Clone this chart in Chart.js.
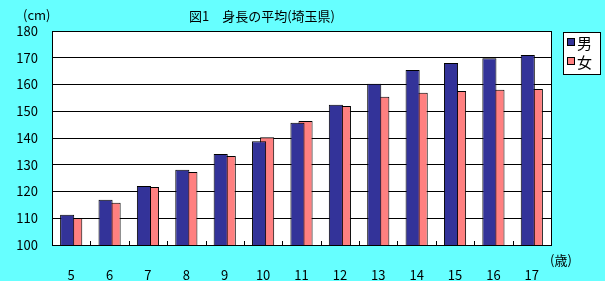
<!DOCTYPE html>
<html>
<head>
<meta charset="utf-8">
<script src="https://cdn.jsdelivr.net/npm/chart.js@4.4.0/dist/chart.umd.min.js"></script>
<style>
  html, body { margin: 0; padding: 0; background: #66ffff; }
  #wrap { width: 605px; height: 281px; position: relative; }
</style>
</head>
<body>
<div id="wrap"><canvas id="heightChart" width="605" height="281"></canvas></div>
<script>
const ages = ["5", "6", "7", "8", "9", "10", "11", "12", "13", "14", "15", "16", "17"];
const boys = [111.3, 116.9, 122.1, 128.1, 134.0, 138.8, 145.7, 152.4, 160.3, 165.4, 168.0, 169.8, 171.0];
const girls = [110.1, 115.8, 121.7, 127.3, 133.3, 140.3, 146.4, 152.0, 155.4, 156.9, 157.6, 158.0, 158.3];
const yMin = 100;
const yMax = 180;
const yStep = 10;

const FONT = "'Noto Sans CJK JP', 'Noto Sans', sans-serif";
const BOY_COLOR = "#333399";
const GIRL_COLOR = "#ff8080";

const decorations = {
  id: "decorations",
  beforeDraw(chart) {
    const ctx = chart.ctx;
    const a = chart.chartArea;
    ctx.save();
    ctx.fillStyle = "#66ffff";
    ctx.fillRect(0, 0, chart.width, chart.height);
    ctx.fillStyle = "#ffffff";
    ctx.fillRect(a.left, a.top, a.right - a.left, a.bottom - a.top);
    ctx.restore();
  },
  afterDraw(chart) {
    const ctx = chart.ctx;
    const a = chart.chartArea;
    const xs = chart.scales.x;
    ctx.save();
    // small inner tick marks at category boundaries
    ctx.strokeStyle = "#000";
    ctx.lineWidth = 1;
    for (let i = 1; i < ages.length; i++) {
      const px = Math.round((xs.getPixelForValue(i - 1) + xs.getPixelForValue(i)) / 2) + 0.5;
      ctx.beginPath();
      ctx.moveTo(px, a.bottom);
      ctx.lineTo(px, a.bottom - 4);
      ctx.stroke();
    }
    // frame
    ctx.strokeRect(Math.round(a.left) + 0.5, Math.round(a.top) + 0.5, Math.round(a.right - a.left), Math.round(a.bottom - a.top));

    // title and units
    ctx.fillStyle = "#000";
    ctx.textBaseline = "middle";
    ctx.font = "13px " + FONT;
    ctx.textAlign = "center";
    ctx.fillText("図1　身長の平均(埼玉県)", 262, 16);
    ctx.textAlign = "left";
    ctx.fillText("(cm)", 23, 15);
    ctx.fillText("(歳)", 550, 260);

    // legend
    ctx.fillStyle = "#fff";
    ctx.fillRect(563, 32, 37, 42);
    ctx.strokeRect(563.5, 32.5, 37, 42);
    const items = chart.data.datasets;
    items.forEach((ds, i) => {
      const cy = 42 + i * 19;
      ctx.fillStyle = ds.backgroundColor;
      ctx.fillRect(567, cy - 3, 7, 7);
      ctx.strokeRect(567.5, cy - 3.5, 7, 7);
      ctx.fillStyle = "#000";
      ctx.font = "15px " + FONT;
      ctx.textAlign = "left";
      ctx.fillText(ds.label, 577, cy + 1);
    });
    ctx.restore();
  },
};

new Chart(document.getElementById("heightChart").getContext("2d"), {
  type: "bar",
  data: {
    labels: ages,
    datasets: [
      {
        label: "男",
        data: boys,
        backgroundColor: BOY_COLOR,
        borderColor: "#000",
        borderWidth: 1,
        categoryPercentage: 0.42,
        barPercentage: 1.75,
      },
      {
        label: "女",
        data: girls,
        backgroundColor: GIRL_COLOR,
        borderColor: "#000",
        borderWidth: 1,
        categoryPercentage: 0.42,
        barPercentage: 1.75,
      },
    ],
  },
  options: {
    responsive: false,
    animation: false,
    devicePixelRatio: 1,
    layout: { padding: { top: 31, right: 54, bottom: 0, left: 0 } },
    plugins: {
      legend: { display: false },
      title: { display: false },
      tooltip: { enabled: false },
    },
    scales: {
      x: {
        grid: { display: false },
        border: { display: false },
        ticks: {
          color: "#000",
          font: { family: FONT, size: 13 },
          padding: 14,
          maxRotation: 0,
        },
        afterFit(scale) {
          scale.height = 36;
        },
      },
      y: {
        min: yMin,
        max: yMax,
        grid: { color: "#000", lineWidth: 1, drawTicks: false },
        border: { display: false },
        ticks: {
          stepSize: yStep,
          color: "#000",
          font: { family: FONT, size: 13 },
          padding: 14,
        },
        afterFit(scale) {
          scale.width = 52;
        },
      },
    },
  },
  plugins: [decorations],
});
</script>
</body>
</html>
